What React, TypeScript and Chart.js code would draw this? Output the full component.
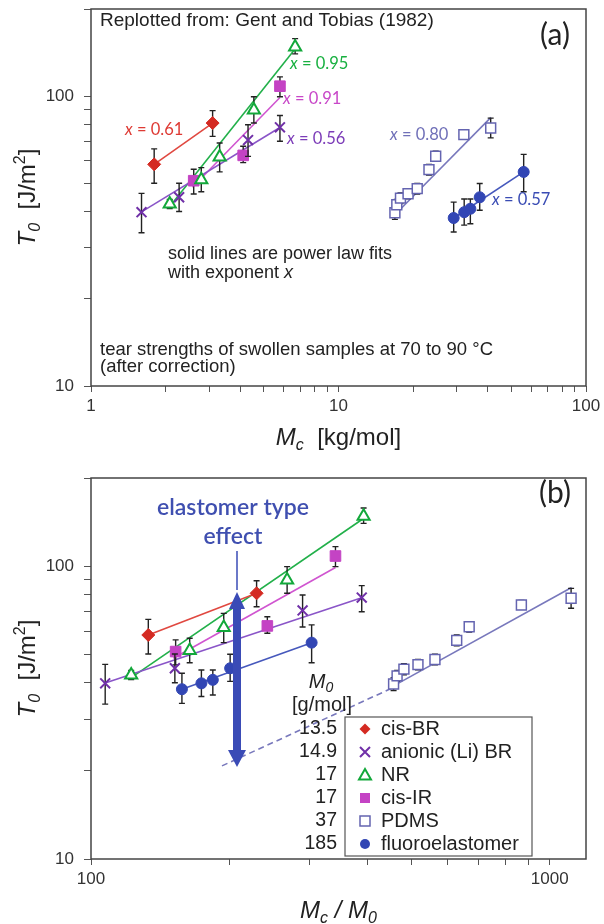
import React, { useEffect, useRef } from 'react';
import { Chart, registerables } from 'chart.js';

Chart.register(...registerables);

// ---------------- data ----------------
// panel (a): Mc in kg/mol, T0 in J/m²
const SERIES = ['cis-BR', 'anionic (Li) BR', 'NR', 'cis-IR', 'PDMS', 'fluoroelastomer'];
const M0 = [13.5, 14.9, 17, 17, 37, 185];
const M0_TEXT = ['13.5', '14.9', '17', '17', '37', '185'];
const EXPONENT_TEXT = ['0.61', '0.56', '0.95', '0.91', '0.80', '0.57'];

const brMc = [1.8, 3.1];
const brT0 = [58.2, 80.8];
const brLow = [50.1, 72.7];
const brHigh = [65.8, 89.2];

const liMc = [1.6, 2.27, 4.31, 5.8];
const liT0 = [39.8, 44.8, 70.6, 78.1];
const liLow = [33.8, 40.0, 62.0, 69.9];
const liHigh = [46.2, 50.1, 79.7, 85.8];

const nrMc = [2.08, 2.79, 3.31, 4.55, 6.68];
const nrT0 = [42.5, 51.5, 61.7, 89.7, 148];
const nrLow = [41.0, 46.8, 54.8, 80.8, 140];
const nrHigh = [44.0, 56.7, 69.0, 99.6, 158];

const irMc = [2.6, 4.12, 5.8];
const irT0 = [51.1, 62.5, 108.3];
const irLow = [46.0, 59.0, 99.6];
const irHigh = [56.0, 67.2, 116.6];

const pdmsMc = [16.9, 17.2, 17.8, 19.1, 20.8, 23.2, 24.7, 32.1, 41.2];
const pdmsT0 = [39.6, 42.2, 44.5, 46.1, 48.0, 55.8, 62.1, 73.7, 77.7];
const pdmsLow = [37.6, 40.4, 42.6, 44.3, 46.0, 53.5, 59.6, 71.2, 71.8];
const pdmsHigh = [41.6, 44.0, 46.4, 48.0, 50.0, 58.2, 64.6, 76.3, 84.0];

const fkmMc = [29.2, 32.2, 34.1, 37.2, 56.0];
const fkmT0 = [38.0, 39.8, 40.9, 44.8, 54.8];
const fkmLow = [34.0, 35.9, 36.3, 40.4, 46.8];
const fkmHigh = [43.1, 44.2, 44.2, 50.0, 63.0];

// power-law fit lines (end points)
const brFitMc = [1.8, 3.1];
const brFitT0 = [58.2, 80.8];
const liFitMc = [1.6, 5.8];
const liFitT0 = [39.9, 78.0];
const nrFitMc = [2.05, 6.7];
const nrFitT0 = [41.0, 146];
const irFitMc = [2.57, 5.8];
const irFitT0 = [48.5, 99.0];
const pdmsFitMc = [16.9, 41.3];
const pdmsFitT0 = [39.0, 84.5];
const fkmFitMc = [29.2, 56.0];
const fkmFitT0 = [38.0, 54.8];

// panel (b): dashed extrapolation of the PDMS fit, in Mc/M0
const pdmsExtX = [193, 456];
const pdmsExtT0 = [20.8, 38.5];

// axes
const xTicksA = [1, 2, 3, 4, 5, 6, 7, 8, 9, 10, 20, 30, 40, 50, 60, 70, 80, 90, 100];
const xLabelsA = [1, 10, 100];
const xTicksB = [100, 200, 300, 400, 500, 600, 700, 800, 900, 1000];
const xLabelsB = [100, 1000];
const yTicks = [10, 20, 30, 40, 50, 60, 70, 80, 90, 100, 200];
const yLabels = [10, 100];

// ---------------- styles ----------------
const FONT = '"Liberation Sans", Arial, sans-serif';
const FONT2 = 'Lato, "Liberation Sans", sans-serif';
const STYLE = [
  { color: '#d42a22', line: '#e04840', text: '#de3a34', point: 'rectRot', r: 6.5, fill: true, lw: 1 },
  { color: '#7030a8', line: '#8a55c8', text: '#7c3cb8', point: 'crossRot', r: 7, fill: false, lw: 2 },
  { color: '#12a83a', line: '#22b04a', text: '#18b040', point: 'triangle', r: 7, fill: false, lw: 2 },
  { color: '#c443c4', line: '#d055d0', text: '#c847c8', point: 'rect', r: 7.5, fill: true, lw: 1 },
  { color: '#6464b0', line: '#7878bc', text: '#7070b8', point: 'rect', r: 7, fill: false, lw: 1.5 },
  { color: '#3246b4', line: '#4658bc', text: '#3a4cb4', point: 'circle', r: 5.5, fill: true, lw: 1 },
];

const SERIES_DATA = [
  { mc: brMc, t0: brT0, lo: brLow, hi: brHigh, fitMc: brFitMc, fitT0: brFitT0 },
  { mc: liMc, t0: liT0, lo: liLow, hi: liHigh, fitMc: liFitMc, fitT0: liFitT0 },
  { mc: nrMc, t0: nrT0, lo: nrLow, hi: nrHigh, fitMc: nrFitMc, fitT0: nrFitT0 },
  { mc: irMc, t0: irT0, lo: irLow, hi: irHigh, fitMc: irFitMc, fitT0: irFitT0 },
  { mc: pdmsMc, t0: pdmsT0, lo: pdmsLow, hi: pdmsHigh, fitMc: pdmsFitMc, fitT0: pdmsFitT0 },
  { mc: fkmMc, t0: fkmT0, lo: fkmLow, hi: fkmHigh, fitMc: fkmFitMc, fitT0: fkmFitT0 },
];

function buildDatasets(toX: (mc: number, i: number) => number) {
  const sets: any[] = [];
  SERIES_DATA.forEach((s, i) => {
    const st = STYLE[i];
    sets.push({
      label: SERIES[i] + ' fit',
      data: s.fitMc.map((m, k) => ({ x: toX(m, i), y: s.fitT0[k] })),
      showLine: true,
      pointRadius: 0,
      borderColor: st.line,
      borderWidth: 1.6,
      order: 2,
    });
  });
  SERIES_DATA.forEach((s, i) => {
    const st = STYLE[i];
    sets.push({
      label: SERIES[i],
      data: s.mc.map((m, k) => ({ x: toX(m, i), y: s.t0[k] })),
      showLine: false,
      pointStyle: st.point,
      pointRadius: st.r,
      pointBorderWidth: st.lw,
      pointBorderColor: st.color,
      pointBackgroundColor: st.fill ? st.color : '#ffffff',
      errLo: s.lo,
      errHi: s.hi,
      order: 1,
    });
  });
  return sets;
}

const near = (v: number, arr: number[]) => arr.some((a) => Math.abs(a - v) < 1e-6);

function makeScales(xmin: number, xmax: number, xt: number[], xl: number[], xHeight: number) {
  return {
    x: {
      type: 'logarithmic',
      min: xmin,
      max: xmax,
      afterBuildTicks: (s: any) => {
        s.ticks = xt.map((v) => ({ value: v }));
      },
      afterFit: (s: any) => {
        s.height = xHeight;
        s.paddingLeft = 0;
        s.paddingRight = 0;
      },
      ticks: {
        autoSkip: false,
        maxRotation: 0,
        minRotation: 0,
        padding: 4,
        color: '#333',
        font: { family: FONT, size: 17 },
        callback: (v: any) => (near(Number(v), xl) ? String(v) : ''),
      },
      grid: { drawOnChartArea: false, drawTicks: true, tickLength: 6, color: '#555', lineWidth: 1 },
      border: { display: false },
    },
    y: {
      type: 'logarithmic',
      min: 10,
      max: 200,
      afterBuildTicks: (s: any) => {
        s.ticks = yTicks.map((v) => ({ value: v }));
      },
      afterFit: (s: any) => {
        s.width = 91;
        s.paddingTop = 0;
        s.paddingBottom = 0;
      },
      ticks: {
        autoSkip: false,
        padding: 10,
        color: '#333',
        font: { family: FONT, size: 17 },
        callback: (v: any) => (near(Number(v), yLabels) ? String(v) : ''),
      },
      grid: { drawOnChartArea: false, drawTicks: true, tickLength: 7, color: '#555', lineWidth: 1 },
      border: { display: false },
    },
  };
}

type Part = { t: string; i?: boolean; sub?: boolean; sup?: boolean };

function rich(
  ctx: CanvasRenderingContext2D,
  parts: Part[],
  x: number,
  y: number,
  size: number,
  color: string,
  opts: { align?: 'left' | 'center' | 'right'; rotate?: boolean; family?: string; weight?: string } = {}
) {
  const fam = opts.family || FONT;
  const f = (p: Part) =>
    `${p.i ? 'italic ' : ''}${opts.weight ? opts.weight + ' ' : ''}${p.sub || p.sup ? Math.round(size * 0.68) : size}px ${fam}`;
  ctx.save();
  ctx.translate(x, y);
  if (opts.rotate) ctx.rotate(-Math.PI / 2);
  let w = 0;
  for (const p of parts) {
    ctx.font = f(p);
    w += ctx.measureText(p.t).width;
  }
  let cx = opts.align === 'left' ? 0 : opts.align === 'right' ? -w : -w / 2;
  ctx.fillStyle = color;
  ctx.textBaseline = 'middle';
  ctx.textAlign = 'left';
  for (const p of parts) {
    ctx.font = f(p);
    const dy = p.sub ? size * 0.3 : p.sup ? -size * 0.32 : 0;
    ctx.fillText(p.t, cx, dy);
    cx += ctx.measureText(p.t).width;
  }
  ctx.restore();
}

const framePlugin = {
  id: 'frame',
  beforeDatasetsDraw(chart: any) {
    const { ctx, chartArea: a } = chart;
    ctx.save();
    ctx.strokeStyle = '#444';
    ctx.lineWidth = 1.5;
    ctx.strokeRect(a.left, a.top, a.right - a.left, a.bottom - a.top);
    ctx.restore();
  },
};

const errorBarPlugin = {
  id: 'errbars',
  beforeDatasetDraw(chart: any, args: any) {
    const ds = chart.data.datasets[args.index];
    if (!ds.errLo) return;
    const { ctx } = chart;
    const xs = chart.scales.x;
    const ys = chart.scales.y;
    ctx.save();
    ctx.strokeStyle = '#222';
    ctx.lineWidth = 1.4;
    ds.data.forEach((p: any, k: number) => {
      const px = xs.getPixelForValue(p.x);
      const yl = ys.getPixelForValue(ds.errLo[k]);
      const yh = ys.getPixelForValue(ds.errHi[k]);
      ctx.beginPath();
      ctx.moveTo(px, yl);
      ctx.lineTo(px, yh);
      ctx.moveTo(px - 3, yl);
      ctx.lineTo(px + 3, yl);
      ctx.moveTo(px - 3, yh);
      ctx.lineTo(px + 3, yh);
      ctx.stroke();
    });
    ctx.restore();
  },
};

function yTitle(ctx: CanvasRenderingContext2D, a: any) {
  rich(
    ctx,
    [{ t: 'T', i: true }, { t: '0', i: true, sub: true }, { t: '  [J/m' }, { t: '2', sup: true }, { t: ']' }],
    28,
    (a.top + a.bottom) / 2,
    24,
    '#222',
    { rotate: true }
  );
}

const annotA = {
  id: 'annotA',
  afterDraw(chart: any) {
    const ctx = chart.ctx as CanvasRenderingContext2D;
    const a = chart.chartArea;
    yTitle(ctx, a);
    rich(ctx, [{ t: 'M', i: true }, { t: 'c', i: true, sub: true }, { t: '  [kg/mol]' }], (a.left + a.right) / 2, a.bottom + 52, 24, '#222');
    rich(ctx, [{ t: 'Replotted from: Gent and Tobias (1982)' }], 100, 21, 19, '#222', { align: 'left' });
    rich(ctx, [{ t: '(a)' }], 555, 35, 30, '#222', { family: FONT2 });
    const pos = [
      [125, 130],
      [287, 139],
      [290, 64],
      [283, 99],
      [390, 135],
      [492, 200],
    ];
    EXPONENT_TEXT.forEach((e, i) => {
      rich(ctx, [{ t: 'x', i: true }, { t: ' = ' + e }], pos[i][0], pos[i][1], 16.5, STYLE[i].text, { align: 'left', family: FONT2 });
    });
    rich(ctx, [{ t: 'solid lines are power law fits' }], 168, 254, 18, '#222', { align: 'left' });
    rich(ctx, [{ t: 'with exponent ' }, { t: 'x', i: true }], 168, 273, 18, '#222', { align: 'left' });
    rich(ctx, [{ t: 'tear strengths of swollen samples at 70 to 90 °C' }], 100, 350, 18.5, '#222', { align: 'left' });
    rich(ctx, [{ t: '(after correction)' }], 100, 367, 18.5, '#222', { align: 'left' });
  },
};

function legendMarker(ctx: CanvasRenderingContext2D, i: number, x: number, y: number) {
  const st = STYLE[i];
  ctx.save();
  ctx.strokeStyle = st.color;
  ctx.fillStyle = st.color;
  ctx.lineWidth = 2;
  ctx.beginPath();
  if (i === 0) {
    const r = 5.5;
    ctx.moveTo(x, y - r);
    ctx.lineTo(x + r, y);
    ctx.lineTo(x, y + r);
    ctx.lineTo(x - r, y);
    ctx.closePath();
    ctx.fill();
  } else if (i === 1) {
    const r = 5;
    ctx.moveTo(x - r, y - r);
    ctx.lineTo(x + r, y + r);
    ctx.moveTo(x + r, y - r);
    ctx.lineTo(x - r, y + r);
    ctx.stroke();
  } else if (i === 2) {
    const r = 6;
    ctx.moveTo(x, y - r);
    ctx.lineTo(x + r, y + r * 0.75);
    ctx.lineTo(x - r, y + r * 0.75);
    ctx.closePath();
    ctx.stroke();
  } else if (i === 3) {
    ctx.rect(x - 5, y - 5, 10, 10);
    ctx.fill();
  } else if (i === 4) {
    ctx.lineWidth = 1.5;
    ctx.rect(x - 5, y - 5, 10, 10);
    ctx.stroke();
  } else {
    ctx.arc(x, y, 5, 0, Math.PI * 2);
    ctx.fill();
  }
  ctx.restore();
}

const annotB = {
  id: 'annotB',
  afterDraw(chart: any) {
    const ctx = chart.ctx as CanvasRenderingContext2D;
    const a = chart.chartArea;
    yTitle(ctx, a);
    rich(ctx, [{ t: 'M', i: true }, { t: 'c', i: true, sub: true }, { t: ' / ', i: true }, { t: 'M', i: true }, { t: '0', i: true, sub: true }], (a.left + a.right) / 2, a.bottom + 52, 24, '#222');
    rich(ctx, [{ t: '(b)' }], 555, 31, 30, '#222', { family: FONT2 });

    // elastomer type effect arrow
    const blue = '#3a4bb6';
    rich(ctx, [{ t: 'elastomer type' }], 233, 46, 23, '#3f4fb0', { family: FONT2, weight: '600' });
    rich(ctx, [{ t: 'effect' }], 233, 75, 23, '#3f4fb0', { family: FONT2, weight: '600' });
    ctx.save();
    ctx.strokeStyle = blue;
    ctx.lineWidth = 1.5;
    ctx.beginPath();
    ctx.moveTo(237, 89);
    ctx.lineTo(237, 128);
    ctx.stroke();
    ctx.fillStyle = blue;
    ctx.beginPath();
    ctx.moveTo(237, 130);
    ctx.lineTo(245, 147);
    ctx.lineTo(241, 147);
    ctx.lineTo(241, 288);
    ctx.lineTo(246, 288);
    ctx.lineTo(237, 305);
    ctx.lineTo(228, 288);
    ctx.lineTo(233, 288);
    ctx.lineTo(233, 147);
    ctx.lineTo(229, 147);
    ctx.closePath();
    ctx.fill();
    ctx.restore();

    // M0 column + legend
    rich(ctx, [{ t: 'M', i: true }, { t: '0', i: true, sub: true }], 321, 220, 20, '#222');
    rich(ctx, [{ t: '[g/mol]' }], 322, 243, 20, '#222');
    ctx.save();
    ctx.fillStyle = '#ffffff';
    ctx.fillRect(345, 255, 187, 139);
    ctx.strokeStyle = '#555';
    ctx.lineWidth = 1.2;
    ctx.strokeRect(345, 255, 187, 139);
    ctx.restore();
    SERIES.forEach((name, i) => {
      const y = 267 + i * 23;
      rich(ctx, [{ t: M0_TEXT[i] }], 337, y, 19.5, '#222', { align: 'right' });
      legendMarker(ctx, i, 365, y);
      rich(ctx, [{ t: name }], 381, y, 20, '#222', { align: 'left' });
    });
  },
};

export default function App() {
  const refA = useRef<HTMLCanvasElement>(null);
  const refB = useRef<HTMLCanvasElement>(null);

  useEffect(() => {
    document.body.style.margin = '0';
    const chartA = new Chart(refA.current as HTMLCanvasElement, {
      type: 'scatter',
      data: { datasets: buildDatasets((m) => m) },
      options: {
        animation: false,
        responsive: false,
        devicePixelRatio: 1,
        layout: { padding: { top: 5, right: 18, left: 0, bottom: 0 } },
        plugins: { legend: { display: false }, tooltip: { enabled: false } },
        scales: makeScales(1, 100, xTicksA, xLabelsA, 76) as any,
      },
      plugins: [framePlugin, errorBarPlugin, annotA],
    } as any);

    const dsB = buildDatasets((m, i) => (m * 1000) / M0[i]);
    dsB.push({
      label: 'PDMS extrapolation',
      data: pdmsExtX.map((x, k) => ({ x, y: pdmsExtT0[k] })),
      showLine: true,
      pointRadius: 0,
      borderColor: STYLE[4].line,
      borderWidth: 1.6,
      borderDash: [6, 4],
      order: 2,
    });
    const chartB = new Chart(refB.current as HTMLCanvasElement, {
      type: 'scatter',
      data: { datasets: dsB },
      options: {
        animation: false,
        responsive: false,
        devicePixelRatio: 1,
        layout: { padding: { top: 16, right: 18, left: 0, bottom: 0 } },
        plugins: { legend: { display: false }, tooltip: { enabled: false } },
        scales: makeScales(100, 1200, xTicksB, xLabelsB, 65) as any,
      },
      plugins: [framePlugin, errorBarPlugin, annotB],
    } as any);

    return () => {
      chartA.destroy();
      chartB.destroy();
    };
  }, []);

  return (
    <div style={{ position: 'absolute', left: 0, top: 0, width: 604, height: 924, background: '#fff' }}>
      <canvas ref={refA} width={604} height={462} style={{ position: 'absolute', left: 0, top: 0, display: 'block' }} />
      <canvas ref={refB} width={604} height={462} style={{ position: 'absolute', left: 0, top: 462, display: 'block' }} />
    </div>
  );
}
